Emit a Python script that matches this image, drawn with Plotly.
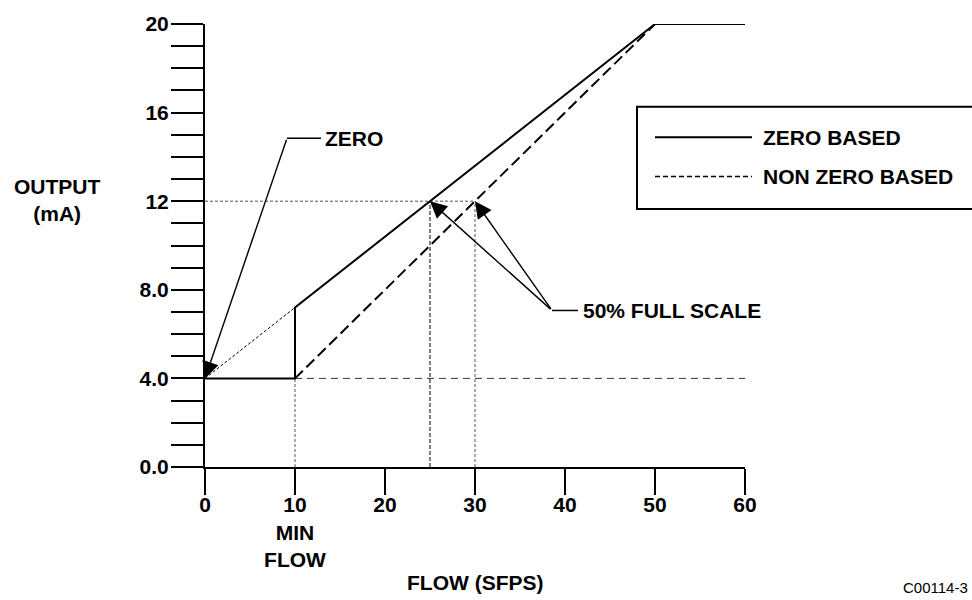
import plotly.graph_objects as go

# ---- data ----
flow_zero = [0, 10, 10, 50, 60]
out_zero = [4, 4, 7.2, 20, 20]
flow_nonzero = [10, 50]
out_nonzero = [4, 20]
min_flow = 10
live_zero = 4
half_scale_out = 12
half_flow_zero = 25
half_flow_nonzero = 30
flow_max = 60
x_ticks = [0, 10, 20, 30, 40, 50, 60]
x_ticktext = ["0", "10<br>MIN<br>FLOW", "20", "30", "40", "50", "60"]
y_ticks = [0, 4, 8, 12, 16, 20]
y_ticktext = ["0.0", "4.0", "8.0", "12", "16", "20"]

# ---- layout geometry (pixels) ----
W, H = 972, 600
L, R, T, B = 205, 745, 17, 467
def px(p):
    return (p - L) / (R - L)
def py(p):
    return (B - p) / (B - T)
def dx(p):
    return (p - L) / (R - L) * 60
def dy(p):
    return (B - p) / (B - T) * 20

FONT = "Liberation Sans, Arial, sans-serif"
bold = dict(family=FONT, size=21, color="black", weight="bold")

fig = go.Figure()

# thin guide lines
guide = dict(color="#555555", width=1, dash="3px,2px")
fig.add_trace(go.Scatter(x=[0, half_flow_nonzero], y=[half_scale_out, half_scale_out],
                         mode="lines", line=guide, showlegend=False, hoverinfo="skip"))
fig.add_trace(go.Scatter(x=[min_flow, min_flow], y=[0, live_zero],
                         mode="lines", line=guide, showlegend=False, hoverinfo="skip"))
fig.add_trace(go.Scatter(x=[half_flow_zero, half_flow_zero], y=[0, half_scale_out],
                         mode="lines", line=dict(color="black", width=1, dash="4px,2px"),
                         showlegend=False, hoverinfo="skip"))
fig.add_trace(go.Scatter(x=[half_flow_nonzero, half_flow_nonzero], y=[0, half_scale_out],
                         mode="lines", line=guide, showlegend=False, hoverinfo="skip"))
# dashed 4 mA baseline
fig.add_trace(go.Scatter(x=[min_flow, flow_max], y=[live_zero, live_zero],
                         mode="lines", line=dict(color="#333333", width=1, dash="7px,5px"),
                         showlegend=False, hoverinfo="skip"))
# dotted extension of zero-based line below min flow
fig.add_trace(go.Scatter(x=[flow_zero[0], flow_zero[2]], y=[out_zero[0], out_zero[2]],
                         mode="lines", line=dict(color="black", width=1, dash="3px,2px"),
                         showlegend=False, hoverinfo="skip"))

# main series
fig.add_trace(go.Scatter(x=flow_nonzero, y=out_nonzero, mode="lines", name="NON ZERO BASED",
                         line=dict(color="black", width=2, dash="11px,5px"),
                         showlegend=False, cliponaxis=False))
fig.add_trace(go.Scatter(x=flow_zero, y=out_zero, mode="lines", name="ZERO BASED",
                         line=dict(color="black", width=2), showlegend=False, cliponaxis=False))

shapes = []
annotations = []

arrow = dict(text="", showarrow=True, arrowhead=2, arrowsize=2.4, arrowwidth=1.4,
             arrowcolor="black", standoff=0, xref="x", yref="y", axref="x", ayref="y")

# ZERO callout
zb_x, zb_y = dx(287), dy(133)
shapes.append(dict(type="line", xref="x", yref="y", x0=zb_x, y0=zb_y, x1=dx(321), y1=zb_y,
                   line=dict(color="black", width=1.5)))
annotations.append(dict(x=flow_zero[0], y=out_zero[0], ax=zb_x, ay=zb_y, **arrow))
annotations.append(dict(x=dx(323), y=zb_y, xref="x", yref="y", text="ZERO", showarrow=False,
                        xanchor="left", yanchor="middle", font=bold))

# 50% FULL SCALE callout
fb_x, fb_y = dx(552), dy(308)
shapes.append(dict(type="line", xref="x", yref="y", x0=fb_x, y0=fb_y, x1=dx(578), y1=fb_y,
                   line=dict(color="black", width=1.5)))
for fx in (half_flow_zero, half_flow_nonzero):
    annotations.append(dict(x=fx, y=half_scale_out, ax=fb_x, ay=fb_y, **arrow))
annotations.append(dict(x=dx(581), y=fb_y, xref="x", yref="y", text="50% FULL SCALE",
                        showarrow=False, xanchor="left", yanchor="middle", font=bold))

# legend box
shapes.append(dict(type="rect", xref="paper", yref="paper", x0=px(637), x1=px(990),
                   y0=py(205), y1=py(101), line=dict(color="black", width=2), fillcolor="white",
                   layer="above"))
shapes.append(dict(type="line", xref="paper", yref="paper", x0=px(655), x1=px(752),
                   y0=py(132), y1=py(132), line=dict(color="black", width=2)))
shapes.append(dict(type="line", xref="paper", yref="paper", x0=px(655), x1=px(752),
                   y0=py(172), y1=py(172), line=dict(color="black", width=1.5, dash="5px,3px")))
annotations.append(dict(x=px(761), y=py(132), xref="paper", yref="paper", text="ZERO BASED",
                        showarrow=False, xanchor="left", yanchor="middle", font=bold))
annotations.append(dict(x=px(761), y=py(172), xref="paper", yref="paper", text="NON ZERO BASED",
                        showarrow=False, xanchor="left", yanchor="middle", font=bold))

# axis titles
annotations.append(dict(x=px(57), y=py(196), xref="paper", yref="paper", text="OUTPUT<br>(mA)",
                        showarrow=False, xanchor="center", yanchor="middle", font=bold))
annotations.append(dict(x=px(475), y=py(584), xref="paper", yref="paper", text="FLOW (SFPS)",
                        showarrow=False, xanchor="center", yanchor="middle", font=bold))
# figure code
annotations.append(dict(x=px(970), y=py(600), xref="paper", yref="paper", text="C00114-3",
                        showarrow=False, xanchor="right", yanchor="bottom",
                        font=dict(family=FONT, size=15, color="black")))

fig.update_layout(
    width=W, height=H,
    margin=dict(l=L, r=W - R, t=T, b=H - B, pad=0),
    paper_bgcolor="white", plot_bgcolor="white",
    showlegend=False,
    shapes=shapes, annotations=annotations,
    xaxis=dict(range=[0, flow_max], showgrid=False, zeroline=False, showline=True,
               linecolor="black", linewidth=2, ticks="outside", ticklen=26, tickwidth=2,
               tickcolor="black", tickvals=x_ticks, ticktext=x_ticktext, tickfont=bold,
               ticklabelstandoff=-8),
    yaxis=dict(range=[0, 20], showgrid=False, zeroline=False, showline=True,
               linecolor="black", linewidth=2, ticks="outside", ticklen=32, tickwidth=2,
               tickcolor="black", tickvals=y_ticks, ticktext=y_ticktext, tickfont=bold,
               ticklabelstandoff=-2,
               minor=dict(dtick=1, ticks="outside", ticklen=32, tickwidth=2, tickcolor="black")),
)

fig.write_html("out.html", config={"displayModeBar": False},
               post_script="document.body.style.margin='0';")
